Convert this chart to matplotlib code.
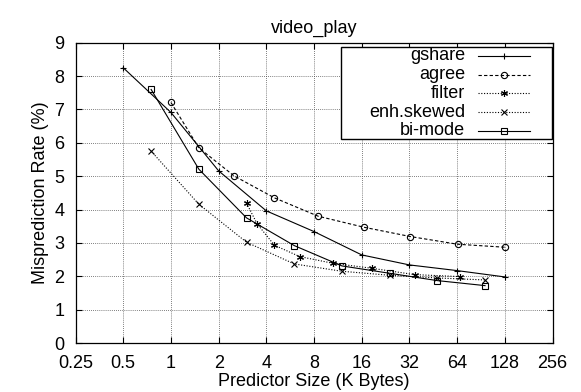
import numpy as np
import matplotlib
matplotlib.use("Agg")
import matplotlib.pyplot as plt
from matplotlib.ticker import FixedLocator, NullLocator
from matplotlib.patches import Rectangle

plt.rcParams['font.family'] = ['Liberation Sans', 'DejaVu Sans']

# data
gshare_x = [0.5, 1, 2, 4, 8, 16, 32, 64, 128]
gshare_y = [8.25, 6.91, 5.16, 3.96, 3.34, 2.64, 2.34, 2.17, 1.98]

agree_x = [1, 1.5, 2.5, 4.5, 8.5, 16.5, 32.5, 64.5, 128.5]
agree_y = [7.21, 5.85, 5.01, 4.35, 3.80, 3.47, 3.19, 2.96, 2.87]

filter_x = [3, 3.5, 4.5, 6.5, 10.5, 18.5, 34.5, 66.5]
filter_y = [4.19, 3.57, 2.93, 2.59, 2.39, 2.24, 2.05, 1.99]

skewed_x = [0.75, 1.5, 3, 6, 12, 24, 48, 96]
skewed_y = [5.75, 4.16, 3.02, 2.37, 2.15, 2.03, 1.95, 1.89]

bimode_x = [0.75, 1.5, 3, 6, 12, 24, 48, 96]
bimode_y = [7.60, 5.21, 3.75, 2.92, 2.31, 2.09, 1.87, 1.72]

xticks = [0.25, 0.5, 1, 2, 4, 8, 16, 32, 64, 128, 256]
xtick_labels = ["0.25", "0.5", "1", "2", "4", "8", "16", "32", "64", "128", "256"]
yticks = list(range(0, 10))

FS = 13
lw = 0.8
dotted = (0, (1, 1.5))

series = [
    ("gshare", gshare_x, gshare_y, dict(ls='-', marker='+', ms=5, mew=0.8)),
    ("agree", agree_x, agree_y, dict(ls=(0, (3, 2)), marker='o', ms=4.5, mfc='none', mew=0.8)),
    ("filter", filter_x, filter_y, dict(ls=dotted, marker=(6, 2, 0), ms=5, mew=0.8)),
    ("enh.skewed", skewed_x, skewed_y, dict(ls=dotted, marker='x', ms=4.5, mew=0.8)),
    ("bi-mode", bimode_x, bimode_y, dict(ls='-', marker='s', ms=5, mfc='none', mew=0.8)),
]

fig = plt.figure(figsize=(5.81, 3.92), dpi=100)
ax = fig.add_axes([0.130, 0.125, 0.821, 0.766])

for name, xs, ys, st in series:
    ax.plot(xs, ys, color='black', lw=lw, **st)

ax.set_xscale('log', base=2)
ax.set_xlim(0.25, 256)
ax.set_ylim(0, 9)
ax.xaxis.set_major_locator(FixedLocator(xticks))
ax.set_xticklabels(xtick_labels)
ax.xaxis.set_minor_locator(NullLocator())
ax.set_yticks(yticks)

ax.grid(True, color='#555555', ls=dotted, lw=0.6)
ax.tick_params(direction='in', top=True, right=True, length=4, width=0.8,
               labelsize=FS)
ax.tick_params(axis='x', pad=9)
ax.tick_params(axis='y', pad=8)
for s in ax.spines.values():
    s.set_linewidth(0.9)

ax.set_title('video_play', fontsize=FS, pad=7)
ax.set_xlabel('Predictor Size (K Bytes)', fontsize=FS, labelpad=0)
ax.set_ylabel('Misprediction Rate (%)', fontsize=FS, labelpad=4)

# gnuplot style key: text right-aligned, sample on the right
ax.add_patch(Rectangle((0.556, 0.678), 0.442, 0.309, transform=ax.transAxes,
                       facecolor='white', edgecolor='black', lw=1.0, zorder=5))
row_y = 0.956
for name, xs, ys, st in series:
    ax.text(0.8165, row_y, name, transform=ax.transAxes, ha='right', va='center',
            fontsize=FS, zorder=6)
    st_line = {k: v for k, v in st.items() if k == 'ls'}
    ax.plot([0.8444, 0.9528], [row_y, row_y], transform=ax.transAxes,
            color='black', lw=lw, zorder=6, **st_line)
    st_mark = {k: v for k, v in st.items() if k != 'ls'}
    ax.plot([0.8986], [row_y], transform=ax.transAxes, color='black',
            ls='none', zorder=6, **st_mark)
    row_y -= 0.0623

fig.savefig('out.png', dpi=100)
